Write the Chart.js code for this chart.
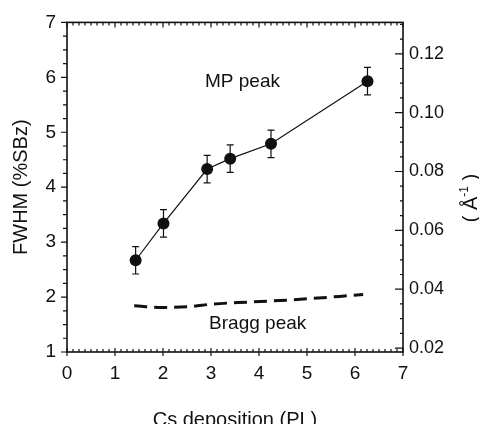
<!DOCTYPE html>
<html>
<head>
<meta charset="utf-8">
<script src="https://cdn.jsdelivr.net/npm/chart.js@4.4.1/dist/chart.umd.min.js"></script>
<style>
  html, body { margin: 0; padding: 0; background: #fff; }
  #wrap { width: 479px; height: 424px; position: relative; }
</style>
</head>
<body>
<div id="wrap"><canvas id="fwhmChart"></canvas></div>
<script>
// MP peak: Cs deposition (PL) vs FWHM (%SBz), with error bars
const csDeposition = [1.43, 2.01, 2.92, 3.40, 4.25, 6.26];
const mpFwhm = [2.67, 3.34, 4.33, 4.52, 4.79, 5.93];
const mpError = [0.25, 0.25, 0.25, 0.25, 0.25, 0.25];

// Bragg peak (dashed curve)
const braggX = [1.40, 2.0, 2.6, 3.0, 3.8, 4.7, 6.17];
const braggFwhm = [1.84, 1.81, 1.83, 1.87, 1.91, 1.95, 2.045];

// axes
const xTicks = [0, 1, 2, 3, 4, 5, 6, 7];
const yTicks = [1, 2, 3, 4, 5, 6, 7];
const rightTicks = [0.02, 0.04, 0.06, 0.08, 0.10, 0.12];
const rightPerLeft = 0.112 / 6; // Å^-1 per %SBz

// text labels placed in data coordinates
const labelText = ['MP peak', 'Bragg peak'];
const labelX = [2.875, 2.96];
const labelY = [5.82, 1.41];

const FONT = '"Liberation Sans", Arial, Helvetica, sans-serif';

const frameAndTicks = {
  id: 'frameAndTicks',
  afterDatasetsDraw(chart) {
    const { ctx, chartArea: a, scales } = chart;
    const x = scales.x, y = scales.y, y2 = scales.y2;
    ctx.save();
    ctx.strokeStyle = '#111';

    // error bars
    ctx.lineWidth = 1.2;
    csDeposition.forEach((cx, i) => {
      const px = x.getPixelForValue(cx);
      const top = y.getPixelForValue(mpFwhm[i] + mpError[i]);
      const bot = y.getPixelForValue(mpFwhm[i] - mpError[i]);
      ctx.beginPath();
      ctx.moveTo(px, top); ctx.lineTo(px, bot);
      ctx.moveTo(px - 3.5, top); ctx.lineTo(px + 3.5, top);
      ctx.moveTo(px - 3.5, bot); ctx.lineTo(px + 3.5, bot);
      ctx.stroke();
    });

    // frame
    ctx.lineWidth = 1.6;
    ctx.strokeRect(a.left, a.top, a.right - a.left, a.bottom - a.top);

    ctx.lineWidth = 1.2;
    ctx.beginPath();
    // left axis: outward ticks
    for (let v = 1; v <= 7.0001; v += 0.25) {
      const py = y.getPixelForValue(v);
      const major = Math.abs(v - Math.round(v)) < 1e-6;
      ctx.moveTo(a.left - (major ? 6 : 4), py); ctx.lineTo(a.left, py);
    }
    // bottom and top axes
    for (let v = 0; v <= 7.0001; v += 0.125) {
      const px = x.getPixelForValue(v);
      const major = Math.abs(v - Math.round(v)) < 1e-6;
      if (major) {
        ctx.moveTo(px, a.bottom - 4); ctx.lineTo(px, a.bottom + 4);
        ctx.moveTo(px, a.top); ctx.lineTo(px, a.top + 5);
      } else {
        ctx.moveTo(px, a.bottom - 3); ctx.lineTo(px, a.bottom);
        ctx.moveTo(px, a.top); ctx.lineTo(px, a.top + 3);
      }
    }
    // right axis: inward ticks
    for (let v = 0.02; v <= 0.1301; v += 0.005) {
      const py = y2.getPixelForValue(v);
      const major = rightTicks.some(t => Math.abs(t - v) < 1e-6);
      ctx.moveTo(a.right - (major ? 8 : 3), py); ctx.lineTo(a.right, py);
    }
    ctx.stroke();

    // peak labels
    ctx.fillStyle = '#111';
    ctx.font = '19px ' + FONT;
    ctx.textAlign = 'left';
    ctx.textBaseline = 'alphabetic';
    labelText.forEach((t, i) => {
      ctx.fillText(t, x.getPixelForValue(labelX[i]), y.getPixelForValue(labelY[i]));
    });

    // right axis title, reading bottom to top
    ctx.translate(471, 198);
    ctx.rotate(-Math.PI / 2);
    ctx.textBaseline = 'middle';
    ctx.font = '20px ' + FONT;
    const p1 = '( Å', p3 = ' )';
    const supFont = '12px ' + FONT;
    const w1 = ctx.measureText(p1).width;
    ctx.font = supFont;
    const w2 = ctx.measureText('-1').width;
    ctx.font = '20px ' + FONT;
    const w3 = ctx.measureText(p3).width;
    let sx = -(w1 + w2 + w3) / 2;
    ctx.fillText(p1, sx, 0);
    ctx.font = supFont;
    ctx.fillText('-1', sx + w1, -6);
    ctx.font = '20px ' + FONT;
    ctx.fillText(p3, sx + w1 + w2, 0);
    ctx.restore();
  }
};

new Chart(document.getElementById('fwhmChart'), {
  type: 'scatter',
  data: {
    datasets: [
      {
        label: 'MP peak',
        data: csDeposition.map((cx, i) => ({ x: cx, y: mpFwhm[i] })),
        showLine: true,
        borderColor: '#111',
        borderWidth: 1.2,
        backgroundColor: '#111',
        pointRadius: 6,
        pointBorderWidth: 0,
        pointBackgroundColor: '#111',
      },
      {
        label: 'Bragg peak',
        data: braggX.map((bx, i) => ({ x: bx, y: braggFwhm[i] })),
        showLine: true,
        borderColor: '#111',
        borderWidth: 3,
        borderDash: [13, 7],
        cubicInterpolationMode: 'monotone',
        pointRadius: 0,
      },
    ],
  },
  options: {
    responsive: true,
    maintainAspectRatio: false,
    animation: false,
    layout: { padding: { top: 16, right: 0, bottom: 0, left: 0 } },
    plugins: {
      legend: { display: false },
      tooltip: { enabled: false },
    },
    scales: {
      x: {
        type: 'linear',
        min: 0,
        max: 7,
        afterBuildTicks: (s) => { s.ticks = xTicks.map(v => ({ value: v })); },
        afterFit: (s) => { s.height = 72; },
        grid: { display: false, drawTicks: false },
        border: { display: false },
        ticks: { color: '#111', padding: 10, font: { size: 19, family: FONT } },
        title: {
          display: true,
          text: 'Cs deposition (PL)',
          color: '#111',
          font: { size: 20, family: FONT, lineHeight: 1 },
          padding: { top: 0, bottom: -6 },
        },
      },
      y: {
        type: 'linear',
        position: 'left',
        min: 1,
        max: 7,
        afterBuildTicks: (s) => { s.ticks = yTicks.map(v => ({ value: v })); },
        afterFit: (s) => { s.width = 67; },
        grid: { display: false, drawTicks: false },
        border: { display: false },
        ticks: { color: '#111', padding: 11, font: { size: 19, family: FONT } },
        title: {
          display: true,
          text: 'FWHM (%SBz)',
          color: '#111',
          font: { size: 20, family: FONT, lineHeight: 1.2 },
          padding: { top: 9, bottom: 0 },
        },
      },
      y2: {
        type: 'linear',
        position: 'right',
        min: 1 * rightPerLeft,
        max: 7 * rightPerLeft,
        afterBuildTicks: (s) => { s.ticks = rightTicks.map(v => ({ value: v })); },
        afterFit: (s) => { s.width = 76; },
        grid: { display: false, drawTicks: false },
        border: { display: false },
        ticks: {
          color: '#111',
          padding: 6,
          font: { size: 18, family: FONT },
          callback: (v) => Number(v).toFixed(2),
        },
      },
    },
  },
  plugins: [frameAndTicks],
});
</script>
</body>
</html>
